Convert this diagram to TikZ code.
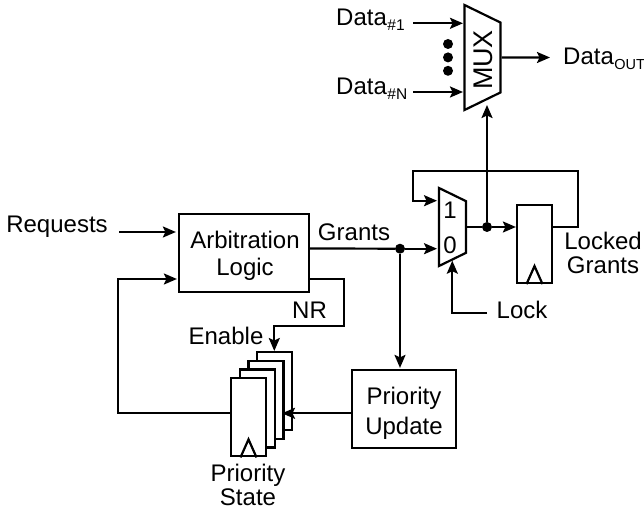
\documentclass[tikz,border=0pt]{standalone}
\usepackage{fontspec}
\setmainfont{Liberation Sans}
\usetikzlibrary{positioning}
\usetikzlibrary{arrows.meta}
\usetikzlibrary{shapes.geometric}
\newcommand{\Sub}[2][15.5]{\kern0.5pt\raisebox{-4.5pt}{\fontsize{#1}{15}\selectfont #2}}
\newcommand{\Clock}[1]{\draw[wire] ([xshift=-8pt]#1.south) -- ([yshift=18pt]#1.south) -- ([xshift=8pt]#1.south);}
\tikzstyle{wire} = [line width=2.2pt]
\tikzstyle{arrow} = [wire, -{Stealth[length=13pt,width=11pt,inset=2.5pt]}]
\tikzstyle{lbl} = [inner sep=0pt, align=center]
\tikzstyle{block} = [rectangle, draw=black, line width=2.2pt, fill=white, inner sep=0pt, minimum width=130pt, minimum height=78pt]
\tikzstyle{reg} = [block, minimum width=35pt, minimum height=78pt]
\tikzstyle{dot} = [circle, fill=black, inner sep=0pt, minimum size=10pt]
\tikzstyle{mux} = [trapezium, trapezium stretches body, shape border rotate=270, trapezium angle=64, draw=black, line width=2.2pt, fill=white, inner sep=0pt]

\begin{document}
\begin{tikzpicture}[x=1pt, y=-1pt, font=\fontsize{24}{27}\selectfont]
\useasboundingbox (0,0) rectangle (644,510);

% Define nodes
\node[block]                                 (arb)  at (244,253) {};
\node[block, minimum width=104pt]            (upd)  at (404,409) {};
\node[reg]                                   (lreg) at (534.5,244) {};
\node[mux, minimum width=78pt]               (msel) at (452.5,227) {\phantom{\rule{27pt}{1pt}}};
\node[mux, minimum width=105pt]              (mout) at (482.5,57.5) {\phantom{\rule{36pt}{1pt}}};
\node[rotate=90, lbl, font=\fontsize{27}{27}\selectfont] (mtxt) at (483,60) {MUX};
\node[lbl]                                   (one)  at (450,210.5) {1};
\node[lbl]                                   (zero) at (450,245) {0};

% Priority state registers
\foreach \i in {3,2,1,0}
  \node[reg] (st\i) at ({248.5+8.75*\i},{417.3-8.75*\i}) {};

\node[dot] (jg) at (400,248.7) {};
\node[dot] (jl) at (487,227) {};
\node[dot] (da) at (448,44) {};
\node[dot, below = 3pt of da] (db) {};
\node[dot, below = 3pt of db] (dc) {};

% Labels
\node[lbl] (art)  at (245,256) {Arbitration\\[0pt]Logic};
\node[lbl] (upt)  at (404,413) {Priority\\[3pt]Update};
\node[lbl] (req)  at (57,226.5)  {Requests};
\node[lbl] (gnt)  at (354,232) {Grants};
\node[lbl] (nr)   at (309.5,310) {NR};
\node[lbl] (en)   at (226,336) {Enable};
\node[lbl] (lck)  at (522,310) {Lock};
\node[lbl, anchor=north, font=\fontsize{24}{24}\selectfont] (pst) at (248,464) {Priority\\State};
\node[lbl, font=\fontsize{24}{24}\selectfont] (lgn) at (603,253) {Locked\\Grants};
\node[lbl, anchor=base west] (d1) at (336,26) {Data\Sub{\#1}};
\node[lbl, anchor=base west] (dn) at (336,95) {Data\Sub{\#N}};
\node[lbl, anchor=base west] (dq) at (563,65) {Data\Sub[14.5]{OUT}};

\coordinate (rq) at (119,232);
\coordinate (fb) at (118,413.3);
\coordinate (lk) at (487,313);
\coordinate (lp) at (413,170.7);
\coordinate (mi) at (487,105);
\coordinate (nrc) at (344,326);

% Edges
\draw[arrow] (rq) -- ([xshift=-2pt]arb.west |- rq);
\draw[wire] ([yshift=4.5pt]arb.east) -- (jg);
\draw[arrow] (jg) -- (437,248.7);
\draw[arrow] (jg) -- ([yshift=1pt]jg |- upd.north);
\draw[arrow] (upd.west |- fb) -- (282,413.3);
\draw[arrow] (st0.west |- fb) -- (fb) -- (fb |- 0,279) -- ([xshift=-1pt]arb.west |- 0,279);
\draw[arrow] (arb.east |- 0,279) -- (nrc |- 0,279) -- (nrc) -- (274.3,326) -- (274.3,351);
\draw[wire] (msel.east |- jl) -- (jl);
\draw[arrow] (jl) -- (lreg.west |- jl);
\draw[arrow] (jl) -- (mi);
\draw[arrow] (lreg.east |- jl) -- (578,227) -- (578,170.7) -- (lp) -- (413,200.7) -- (437,200.7);
\draw[arrow] (lk) -- (452.3,313) -- (452.3,260.7);
\draw[arrow] (413,23.3) -- (463,23.3);
\draw[arrow] (413,92) -- (463,92);
\draw[arrow] (mout.east) -- (550,57.5);

% Clock marks
\Clock{lreg}
\Clock{st0}

\end{tikzpicture}
\end{document}
